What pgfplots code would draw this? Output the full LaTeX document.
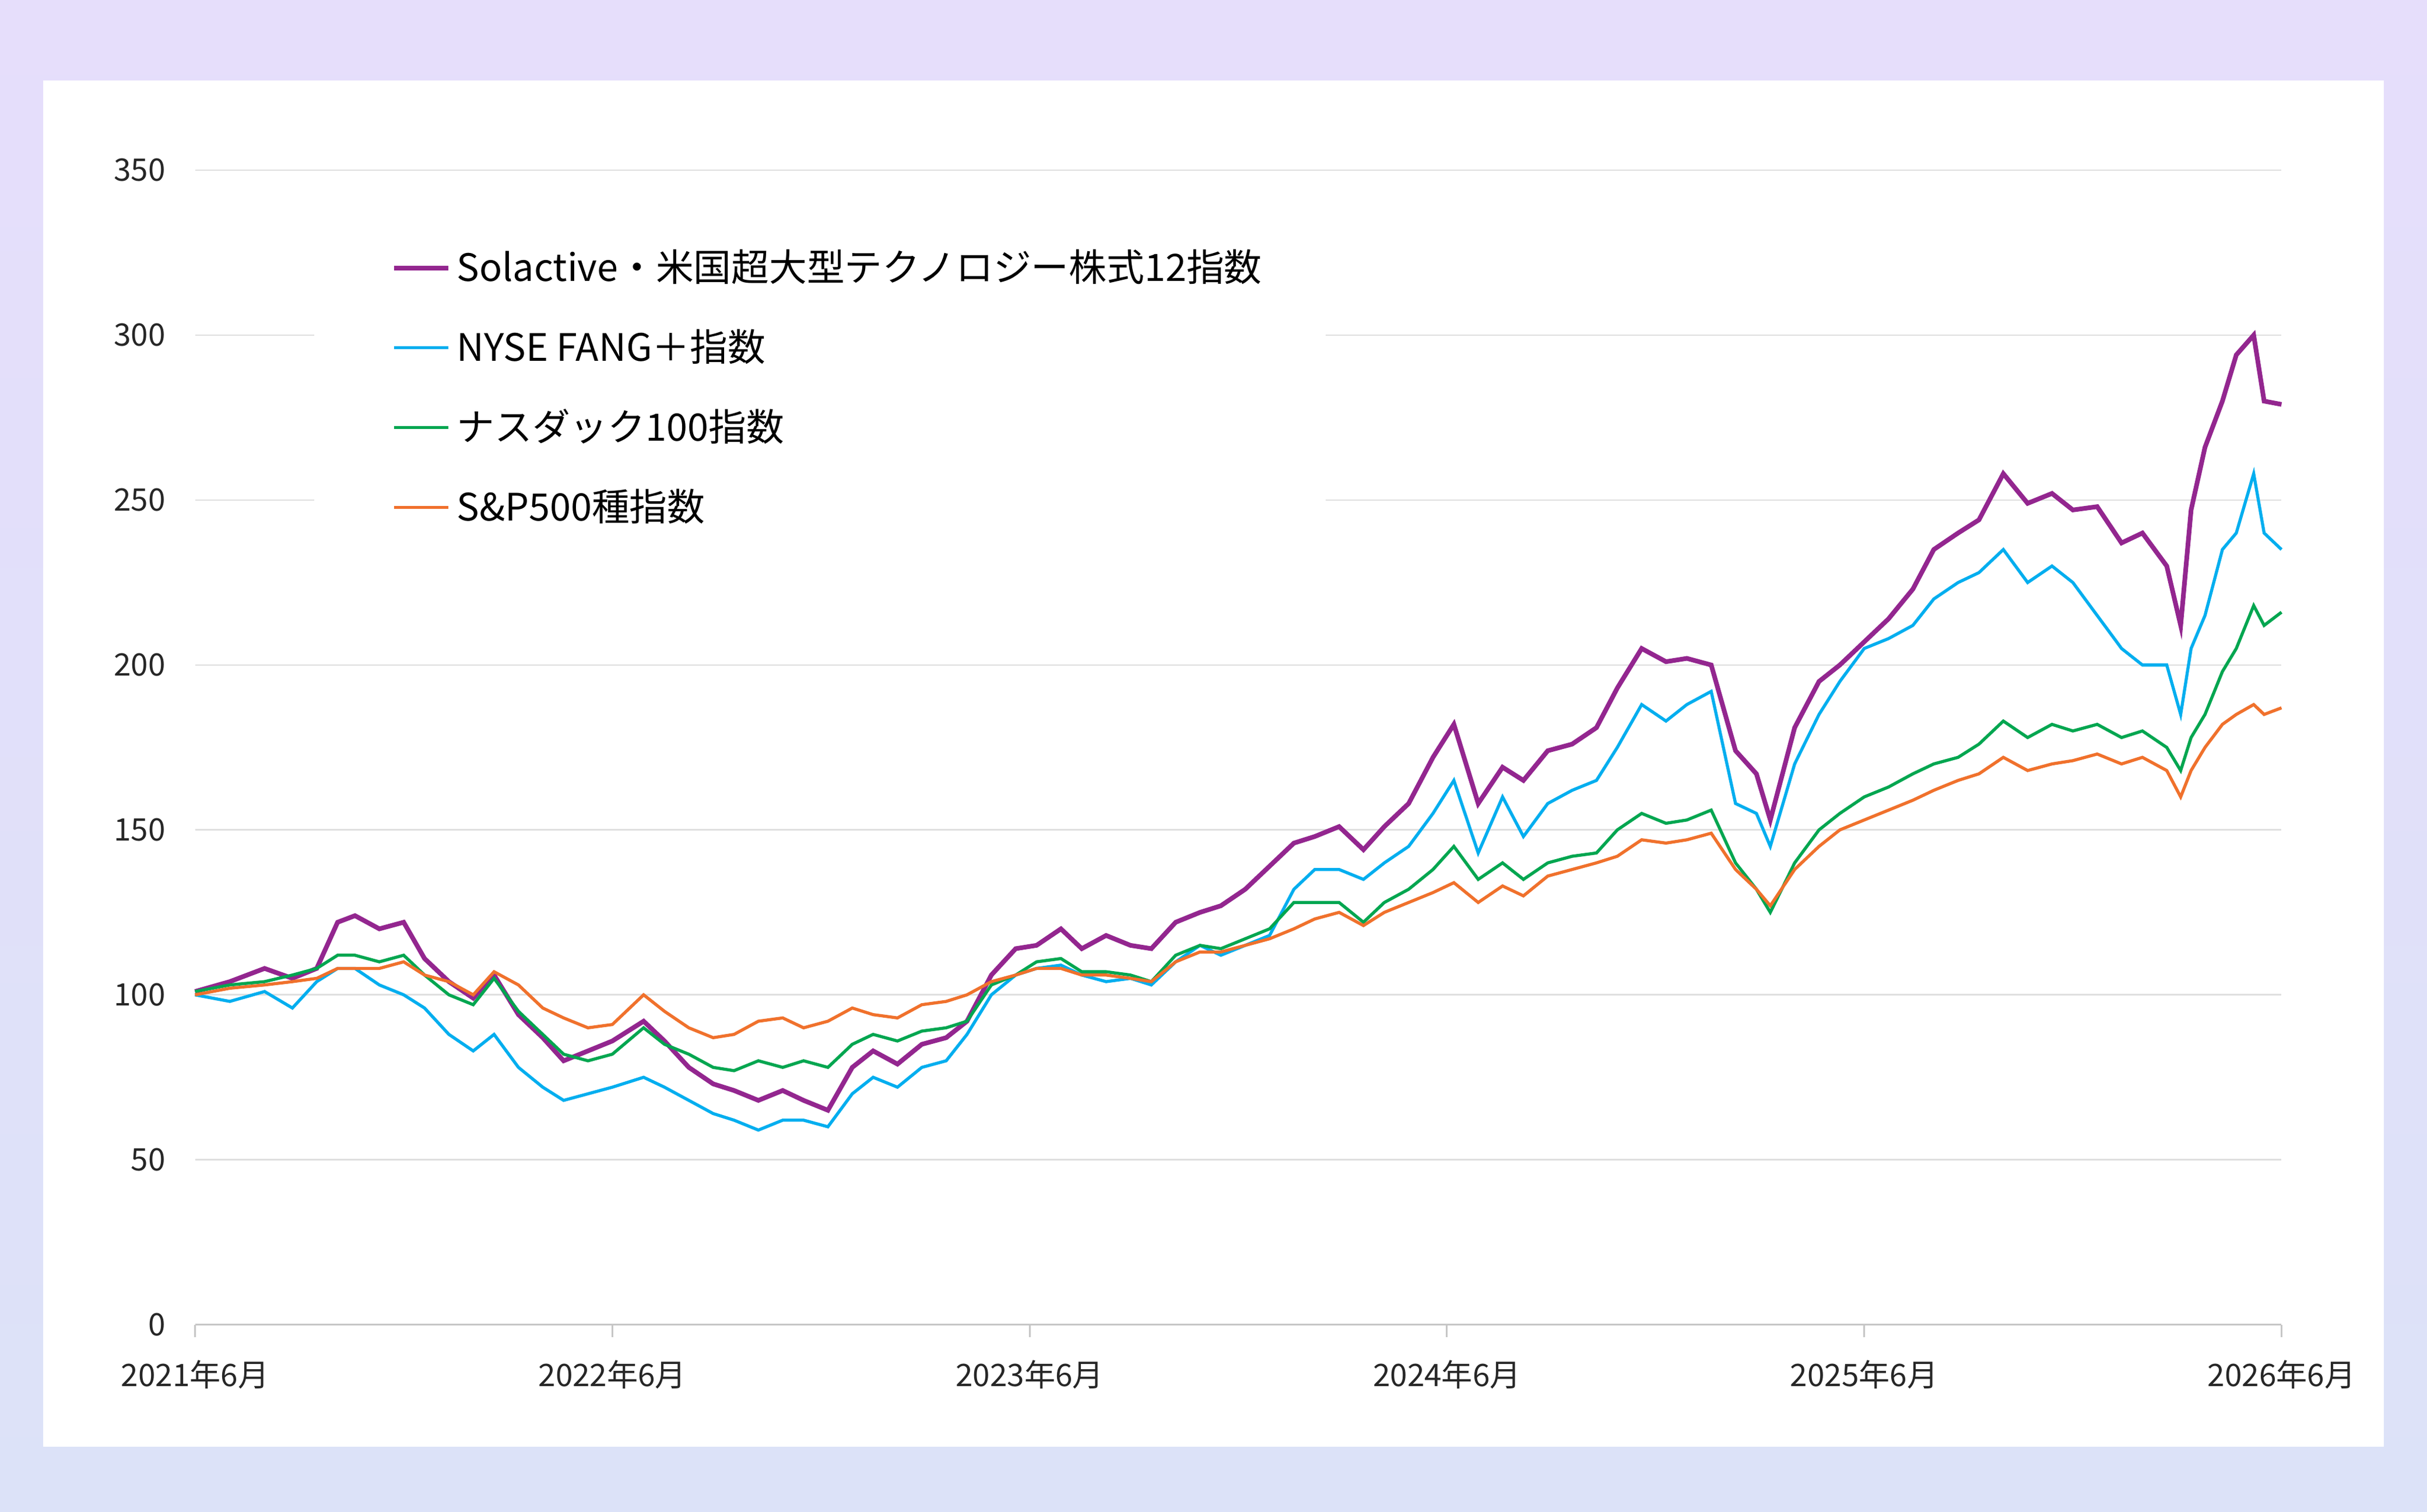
\documentclass[border=0pt]{standalone}
\usepackage{pgfplots}
\pgfplotsset{compat=1.18}
\usepackage{pgfplotstable}
\usepackage{fontspec}
\setmainfont{Noto Sans CJK JP}
\definecolor{cP}{HTML}{93268F}
\definecolor{cB}{HTML}{00AEEF}
\definecolor{cG}{HTML}{00A650}
\definecolor{cO}{HTML}{F0712C}
\definecolor{bgA}{HTML}{E6DEFB}
\definecolor{bgB}{HTML}{DCE2F8}
\pgfplotstableread{
x p b g o
0 101 100 101 100
1 104 98 103 102
2 108 101 104 103
2.8 105 96 106 104
3.5 108 104 108 105
4.1 122 108 112 108
4.6 124 108 112 108
5.3 120 103 110 108
6 122 100 112 110
6.6 111 96 106 106
7.3 104 88 100 104
8 99 83 97 100
8.6 106 88 105 107
9.3 94 78 95 103
10 87 72 88 96
10.6 80 68 82 93
11.3 83 70 80 90
12 86 72 82 91
12.9 92 75 90 100
13.5 86 72 85 95
14.2 78 68 82 90
14.9 73 64 78 87
15.5 71 62 77 88
16.2 68 59 80 92
16.9 71 62 78 93
17.5 68 62 80 90
18.2 65 60 78 92
18.9 78 70 85 96
19.5 83 75 88 94
20.2 79 72 86 93
20.9 85 78 89 97
21.6 87 80 90 98
22.2 92 88 92 100
22.9 106 100 103 104
23.6 114 106 106 106
24.2 115 108 110 108
24.9 120 109 111 108
25.5 114 106 107 106
26.2 118 104 107 106
26.9 115 105 106 105
27.5 114 103 104 104
28.2 122 110 112 110
28.9 125 115 115 113
29.5 127 112 114 113
30.2 132 115 117 115
30.9 139 118 120 117
31.6 146 132 128 120
32.2 148 138 128 123
32.9 151 138 128 125
33.6 144 135 122 121
34.2 151 140 128 125
34.9 158 145 132 128
35.6 172 155 138 131
36.2 182 165 145 134
36.9 158 143 135 128
37.6 169 160 140 133
38.2 165 148 135 130
38.9 174 158 140 136
39.6 176 162 142 138
40.3 181 165 143 140
40.9 193 175 150 142
41.6 205 188 155 147
42.3 201 183 152 146
42.9 202 188 153 147
43.6 200 192 156 149
44.3 174 158 140 138
44.9 167 155 132 132
45.3 153 145 125 127
46 181 170 140 138
46.7 195 185 150 145
47.3 200 195 155 150
48 207 205 160 153
48.7 214 208 163 156
49.4 223 212 167 159
50 235 220 170 162
50.7 240 225 172 165
51.3 244 228 176 167
52 258 235 183 172
52.7 249 225 178 168
53.4 252 230 182 170
54 247 225 180 171
54.7 248 215 182 173
55.4 237 205 178 170
56 240 200 180 172
56.7 230 200 175 168
57.1 212 185 168 160
57.4 247 205 178 168
57.8 266 215 185 175
58.3 280 235 198 182
58.7 294 240 205 185
59.2 300 258 218 188
59.5 280 240 212 185
60 279 235 216 187
}\data
\begin{document}
\begin{tikzpicture}[x=1pt,y=1pt]
\shade[top color=bgA,bottom color=bgB] (0,0) rectangle (784,488.5);
\fill[white] (14,21) rectangle (770,462.5);
\begin{axis}[at={(63pt,60.5pt)},anchor=origin,scale only axis,width=674pt,height=373pt,
 xmin=0,xmax=60,ymin=0,ymax=350,
 xtick={0,12,24,36,48,60},
 xticklabels={2021年6月,2022年6月,2023年6月,2024年6月,2025年6月,2026年6月},
 ytick={0,50,...,350},
 axis x line*=bottom, axis y line*=left,
 y axis line style={draw=none},
 x axis line style={-,draw=gray!45,line width=0.6pt},
 xtick style={draw=gray!45,line width=0.6pt},
 ytick style={draw=none},
 xtick align=outside, major tick length=4pt,
 ymajorgrids, grid style={gray!25,line width=0.5pt},
 ticklabel style={font=\fontsize{10}{12}\selectfont,text=black!85},
 /pgf/number format/assume math mode=true,
 xticklabel style={yshift=-4pt},
 yticklabel style={xshift=-6pt},
 clip=false,
 legend style={draw=none,fill=none,at={(rel axis cs:0.094,0.937)},anchor=north west,
   font=\fontsize{12.2}{14}\selectfont,row sep=10pt,inner sep=0pt},
 legend cell align=left,
 legend image code/.code={\draw[#1] (0pt,0pt) -- (17.5pt,0pt);},
]
\fill[white] (rel axis cs:0.057,0.675) rectangle (rel axis cs:0.542,0.955);
\addplot[cP,line width=1.5pt] table[x=x,y=p]{\data};
\addlegendentry{Solactive・米国超大型テクノロジー株式12指数}
\addplot[cB,line width=1pt] table[x=x,y=b]{\data};
\addlegendentry{NYSE FANG＋指数}
\addplot[cG,line width=1pt] table[x=x,y=g]{\data};
\addlegendentry{ナスダック100指数}
\addplot[cO,line width=1pt] table[x=x,y=o]{\data};
\addlegendentry{S\&P500種指数}
\end{axis}
\end{tikzpicture}
\end{document}
